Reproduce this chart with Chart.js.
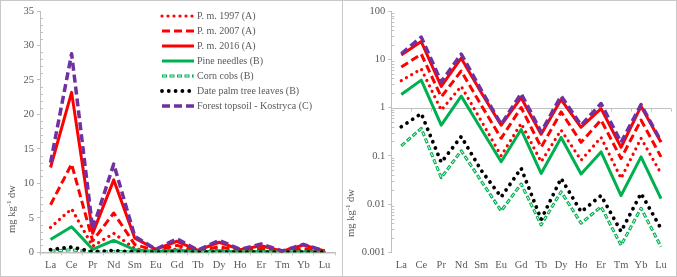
<!DOCTYPE html>
<html><head><meta charset="utf-8">
<script src="https://cdn.jsdelivr.net/npm/chart.js@4.4.1/dist/chart.umd.min.js"></script>
<style>
html,body{margin:0;padding:0;background:#fff;}
#wrap{position:relative;width:677px;height:277px;overflow:hidden;background:#fff;}
canvas{position:absolute;top:0;}
#c1{left:0;} #c2{left:343px;}
.b{position:absolute;background:#c8c8c8;}
</style></head><body>
<div id="wrap">
<canvas id="c1" width="343" height="277"></canvas>
<canvas id="c2" width="334" height="277"></canvas>
<div class="b" style="left:0;top:0;width:677px;height:1px"></div>
<div class="b" style="left:0;top:276px;width:677px;height:1px"></div>
<div class="b" style="left:0;top:0;width:1px;height:277px"></div>
<div class="b" style="left:676px;top:0;width:1px;height:277px"></div>
<div class="b" style="left:342px;top:0;width:1px;height:277px"></div>
</div>
<script>
// ---- data ----
const categories = ['La','Ce','Pr','Nd','Sm','Eu','Gd','Tb','Dy','Ho','Er','Tm','Yb','Lu'];
const seriesNames = ['P. m. 1997 (A)','P. m. 2007 (A)','P. m. 2016 (A)','Pine needles (B)','Corn cobs (B)','Date palm tree leaves (B)','Forest topsoil - Kostryca (C)'];
const pm1997 = [3.6, 6.3, 0.88, 2.75, 0.53, 0.10, 0.47, 0.075, 0.34, 0.081, 0.24, 0.034, 0.23, 0.043];
const pm2007 = [6.9, 12.8, 1.66, 5.7, 1.12, 0.23, 1.0, 0.15, 0.81, 0.19, 0.55, 0.088, 0.55, 0.095];
const pm2016 = [12.3, 23.2, 2.75, 10.5, 2.05, 0.43, 1.6, 0.28, 1.46, 0.39, 0.95, 0.15, 1.06, 0.19];
const pineNeedles = [1.86, 3.7, 0.43, 1.72, 0.36, 0.075, 0.35, 0.043, 0.24, 0.042, 0.12, 0.015, 0.095, 0.013];
const cornCobs = [0.16, 0.37, 0.035, 0.127, 0.03, 0.0072, 0.026, 0.0037, 0.018, 0.004, 0.0088, 0.0014, 0.0082, 0.0013];
const datePalm = [0.40, 0.75, 0.073, 0.25, 0.05, 0.014, 0.055, 0.0048, 0.034, 0.0069, 0.015, 0.0027, 0.0166, 0.0031];
const forestTopsoil = [13.0, 28.8, 3.4, 12.8, 2.3, 0.45, 1.95, 0.31, 1.74, 0.43, 1.21, 0.19, 1.15, 0.2];
const linearTicks = [0, 5, 10, 15, 20, 25, 30, 35];
const logTicks = [0.001, 0.01, 0.1, 1, 10, 100];
const yTitleText = ['mg kg', '-1', ' dw'];

// ---- styles ----
const FONT = "'Liberation Serif', 'Times New Roman', serif";
const TXT = '#595959';
const AX = '#bfbfbf';
const RED = '#ff0000', GREEN = '#00b050', PURPLE = '#7030a0', BLACK = '#000000';

const styles = [
  {borderColor: RED, borderWidth: 3.2, borderDash: [0.001, 6], borderCapStyle: 'round'},
  {borderColor: RED, borderWidth: 3, borderDash: [8, 4]},
  {borderColor: RED, borderWidth: 3},
  {borderColor: GREEN, borderWidth: 3},
  {borderColor: GREEN, borderWidth: 3, borderDash: [5, 2.5]},
  {borderColor: BLACK, borderWidth: 3.8, borderDash: [0.001, 6.8], borderCapStyle: 'round'},
  {borderColor: PURPLE, borderWidth: 3.5, borderDash: [8, 4]}
];
const cornOverlay = {borderColor: '#ffffff', borderWidth: 1, borderDash: [3, 4.5], borderDashOffset: -1};
const seriesData = [pm1997, pm2007, pm2016, pineNeedles, cornCobs, datePalm, forestTopsoil];

function makeDatasets() {
  const ds = [];
  seriesData.forEach((d, i) => {
    ds.push(Object.assign({label: seriesNames[i], data: d, pointRadius: 0, tension: 0, fill: false,
      borderJoinStyle: 'round', order: 20 - 2 * i}, styles[i]));
    if (i === 4) {
      ds.push(Object.assign({label: '_overlay', data: d, pointRadius: 0, tension: 0, fill: false,
        borderJoinStyle: 'round', order: 20 - 2 * i - 1}, cornOverlay));
    }
  });
  return ds;
}

function yTitlePlugin(x, y) {
  return {id: 'ytitle', afterDraw(chart) {
    const ctx = chart.ctx;
    ctx.save();
    ctx.translate(x, y);
    ctx.rotate(-Math.PI / 2);
    ctx.fillStyle = TXT;
    ctx.textBaseline = 'middle';
    ctx.textAlign = 'left';
    ctx.font = '10.5px ' + FONT;
    const wa = ctx.measureText(yTitleText[0]).width;
    const wc = ctx.measureText(yTitleText[2]).width;
    ctx.font = '7px ' + FONT;
    const wb = ctx.measureText(yTitleText[1]).width;
    let sx = -(wa + wb + wc) / 2;
    ctx.font = '10.5px ' + FONT;
    ctx.fillText(yTitleText[0], sx, 0);
    ctx.font = '7px ' + FONT;
    ctx.fillText(yTitleText[1], sx + wa, -3);
    ctx.font = '10.5px ' + FONT;
    ctx.fillText(yTitleText[2], sx + wa + wb, 0);
    ctx.restore();
  }};
}

function minorTickPlugin(values) {
  return {id: 'minorticks', afterDraw(chart) {
    const ys = chart.scales.y, ctx = chart.ctx, L = chart.chartArea.left;
    ctx.save();
    ctx.strokeStyle = AX; ctx.lineWidth = 1;
    ctx.beginPath();
    values.forEach(v => {
      const py = Math.round(ys.getPixelForValue(v)) + 0.5;
      ctx.moveTo(L, py); ctx.lineTo(L + 3, py);
    });
    ctx.stroke();
    ctx.restore();
  }};
}

const legendPlugin = {id: 'customLegend', afterDraw(chart) {
  const ctx = chart.ctx;
  const x0 = 162, x1 = 194, tx = 197, y0 = 16, dy = 15;
  ctx.save();
  seriesNames.forEach((name, i) => {
    const y = y0 + i * dy;
    const st = styles[i];
    ctx.beginPath();
    ctx.strokeStyle = st.borderColor;
    ctx.lineWidth = st.borderWidth;
    ctx.lineCap = st.borderCapStyle || 'butt';
    ctx.setLineDash(st.borderDash || []);
    ctx.lineDashOffset = 0;
    ctx.moveTo(x0, y); ctx.lineTo(x1, y);
    ctx.stroke();
    if (i === 4) {
      ctx.beginPath();
      ctx.strokeStyle = cornOverlay.borderColor;
      ctx.lineWidth = cornOverlay.borderWidth;
      ctx.setLineDash(cornOverlay.borderDash);
      ctx.lineDashOffset = cornOverlay.borderDashOffset;
      ctx.moveTo(x0, y); ctx.lineTo(x1, y);
      ctx.stroke();
    }
    ctx.setLineDash([]);
    ctx.fillStyle = TXT;
    ctx.font = '10px ' + FONT;
    ctx.textAlign = 'left';
    ctx.textBaseline = 'middle';
    ctx.fillText(name, tx, y + 0.5);
  });
  ctx.restore();
}};

const baselinePlugin = {id: 'baseline1', beforeDatasetsDraw(chart) {
  const ctx = chart.ctx, ca = chart.chartArea, xs = chart.scales.x;
  const py = Math.round(chart.scales.y.getPixelForValue(1)) + 0.5;
  ctx.save();
  ctx.strokeStyle = AX; ctx.lineWidth = 1;
  ctx.beginPath();
  ctx.moveTo(ca.left, py); ctx.lineTo(ca.right, py);
  for (let i = 0; i <= categories.length; i++) {
    const px = Math.round(xs.getPixelForValue(i - 0.5)) + 0.5;
    ctx.moveTo(px, py); ctx.lineTo(px, py + 3);
  }
  ctx.stroke();
  ctx.restore();
}};

Chart.defaults.font.family = FONT;
Chart.defaults.font.size = 10;
Chart.defaults.color = TXT;

const tickFont = {family: FONT, size: 10.5};

// ---- left (linear) ----
const minorLin = [];
for (let v = 1; v < 35; v++) if (v % 5 !== 0) minorLin.push(v);

new Chart(document.getElementById('c1'), {
  type: 'line',
  data: {labels: categories, datasets: makeDatasets()},
  options: {
    responsive: false, animation: false, devicePixelRatio: 1,
    layout: {padding: {left: 0, right: 8, top: 11, bottom: 0}},
    plugins: {legend: {display: false}, tooltip: {enabled: false}},
    scales: {
      x: {
        type: 'category', offset: true,
        grid: {offset: true, drawOnChartArea: false, drawTicks: true, tickLength: 3, color: AX},
        border: {display: true, color: AX, width: 1.5},
        ticks: {font: tickFont, color: TXT, padding: 4, autoSkip: false, maxRotation: 0},
        afterFit(s) { s.height = 24.7; }
      },
      y: {
        min: 0, max: 35,
        afterBuildTicks(s) { s.ticks = linearTicks.map(v => ({value: v})); },
        grid: {drawOnChartArea: false, drawTicks: true, tickLength: 3, color: AX},
        border: {display: true, color: AX, width: 1},
        ticks: {font: tickFont, color: TXT, padding: 3},
        afterFit(s) { s.width = 40; }
      }
    }
  },
  plugins: [legendPlugin, yTitlePlugin(12, 209), minorTickPlugin(minorLin)]
});

// ---- right (log) ----
const minorLog = [];
for (let e = -3; e < 2; e++) for (let k = 2; k <= 9; k++) minorLog.push(k * Math.pow(10, e));

new Chart(document.getElementById('c2'), {
  type: 'line',
  data: {labels: categories, datasets: makeDatasets()},
  options: {
    responsive: false, animation: false, devicePixelRatio: 1,
    layout: {padding: {left: 0, right: 6, top: 11, bottom: 0}},
    plugins: {legend: {display: false}, tooltip: {enabled: false}},
    scales: {
      x: {
        type: 'category', offset: true,
        grid: {display: false, drawTicks: false},
        border: {display: false},
        ticks: {font: tickFont, color: TXT, padding: 7, autoSkip: false, maxRotation: 0},
        afterFit(s) { s.height = 24.7; }
      },
      y: {
        type: 'logarithmic', min: 0.001, max: 100,
        afterBuildTicks(s) { s.ticks = logTicks.map(v => ({value: v})); },
        grid: {drawOnChartArea: false, drawTicks: true, tickLength: 3, color: AX},
        border: {display: true, color: AX, width: 1},
        ticks: {font: tickFont, color: TXT, padding: 3, callback: v => String(v)},
        afterFit(s) { s.width = 48.3; }
      }
    }
  },
  plugins: [baselinePlugin, yTitlePlugin(8, 213), minorTickPlugin(minorLog)]
});
</script>
</body></html>
